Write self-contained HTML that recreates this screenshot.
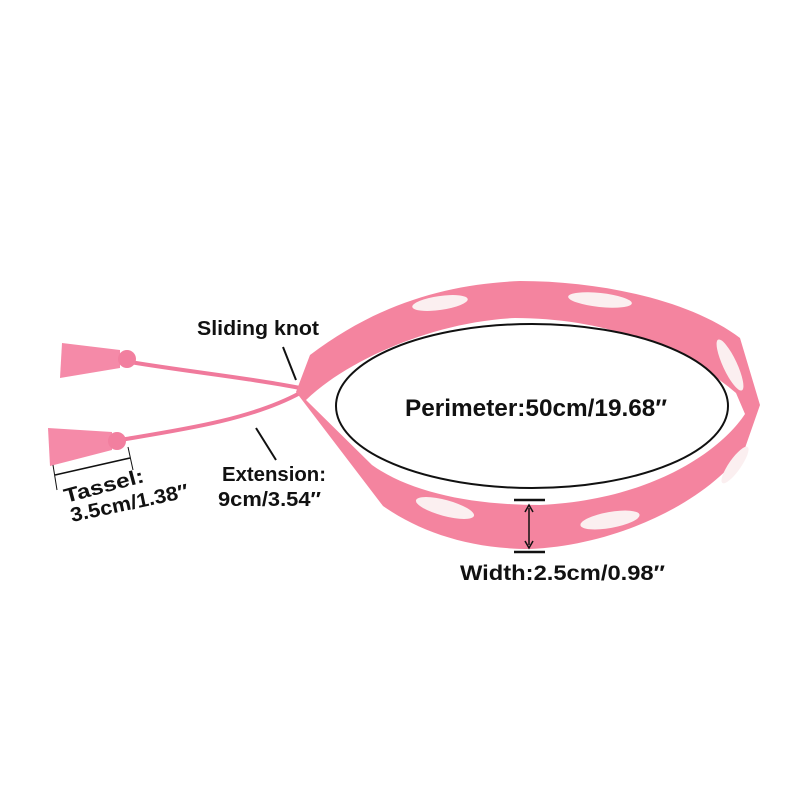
<!DOCTYPE html>
<html><head><style>body{margin:0;background:#fff}svg{display:block}text{font-family:"Liberation Sans",sans-serif;font-weight:bold;fill:#111}</style></head>
<body><svg width="800" height="800" viewBox="0 0 800 800">
<rect width="800" height="800" fill="#fff"/>
<path d="M130,362 C190,372 250,378 300,388" stroke="#f07a9c" stroke-width="4" fill="none"/>
<path d="M120,440 C180,430 250,420 300,393" stroke="#f07a9c" stroke-width="4" fill="none"/>
<path d="M62,343 L120,350 L120,368 L60,378 Z" fill="#f58aa8"/>
<circle cx="127" cy="359" r="9" fill="#f27f9f"/>
<path d="M48,428 L112,432 L112,450 L50,466 Z" fill="#f58aa8"/>
<circle cx="117" cy="441" r="9" fill="#f27f9f"/>
<path fill="#f4849f" fill-rule="evenodd" d="M296,392 L310,355 C380,302 450,284 520,281 C600,281 690,300 740,338 L760,405 L745,448 C710,500 620,545 530,549 C470,549 420,532 383,506 Z
M306,400 C345,362 430,322 515,318 C600,318 680,345 736,393 L745,414 C720,452 650,500 540,505 C470,505 410,492 372,465 Z"/>
<g fill="#fbeff0">
<ellipse cx="440" cy="303" rx="28" ry="7" transform="rotate(-8 440 303)"/>
<ellipse cx="600" cy="300" rx="32" ry="7" transform="rotate(6 600 300)"/>
<ellipse cx="730" cy="365" rx="7" ry="28" transform="rotate(-25 730 365)"/>
<ellipse cx="445" cy="508" rx="30" ry="8" transform="rotate(15 445 508)"/>
<ellipse cx="610" cy="520" rx="30" ry="8" transform="rotate(-10 610 520)"/>
<ellipse cx="735" cy="465" rx="6" ry="22" transform="rotate(35 735 465)"/>
</g>
<ellipse cx="532" cy="406" rx="196" ry="82" fill="#fff" stroke="#111" stroke-width="2"/>
<text x="405" y="416" font-size="24" textLength="262" lengthAdjust="spacingAndGlyphs">Perimeter:50cm/19.68″</text>
<text x="197" y="335" font-size="20" textLength="122" lengthAdjust="spacingAndGlyphs">Sliding knot</text>
<line x1="283" y1="347" x2="296" y2="380" stroke="#111" stroke-width="2"/>
<line x1="256" y1="428" x2="276" y2="460" stroke="#111" stroke-width="2"/>
<text x="222" y="481" font-size="20" textLength="104" lengthAdjust="spacingAndGlyphs">Extension:</text>
<text x="218" y="506" font-size="20" textLength="103" lengthAdjust="spacingAndGlyphs">9cm/3.54″</text>
<line x1="55" y1="475" x2="130" y2="458" stroke="#111" stroke-width="1.5"/>
<line x1="53" y1="465" x2="57" y2="490" stroke="#111" stroke-width="1"/>
<line x1="128" y1="447" x2="133" y2="470" stroke="#111" stroke-width="1"/>
<text x="66" y="503" font-size="20" transform="rotate(-15 66 503)" textLength="82" lengthAdjust="spacingAndGlyphs">Tassel:</text>
<text x="72" y="522" font-size="20" transform="rotate(-12 72 522)" textLength="120" lengthAdjust="spacingAndGlyphs">3.5cm/1.38″</text>
<line x1="514" y1="500" x2="545" y2="500" stroke="#111" stroke-width="2.5"/>
<line x1="514" y1="552" x2="545" y2="552" stroke="#111" stroke-width="2.5"/>
<line x1="529" y1="508" x2="529" y2="545" stroke="#111" stroke-width="1.5"/>
<path d="M525,512 L529,505 L533,512 M525,541 L529,548 L533,541" stroke="#111" fill="none" stroke-width="1.5"/>
<text x="460" y="580" font-size="21" textLength="205" lengthAdjust="spacingAndGlyphs">Width:2.5cm/0.98″</text>
</svg></body></html>
